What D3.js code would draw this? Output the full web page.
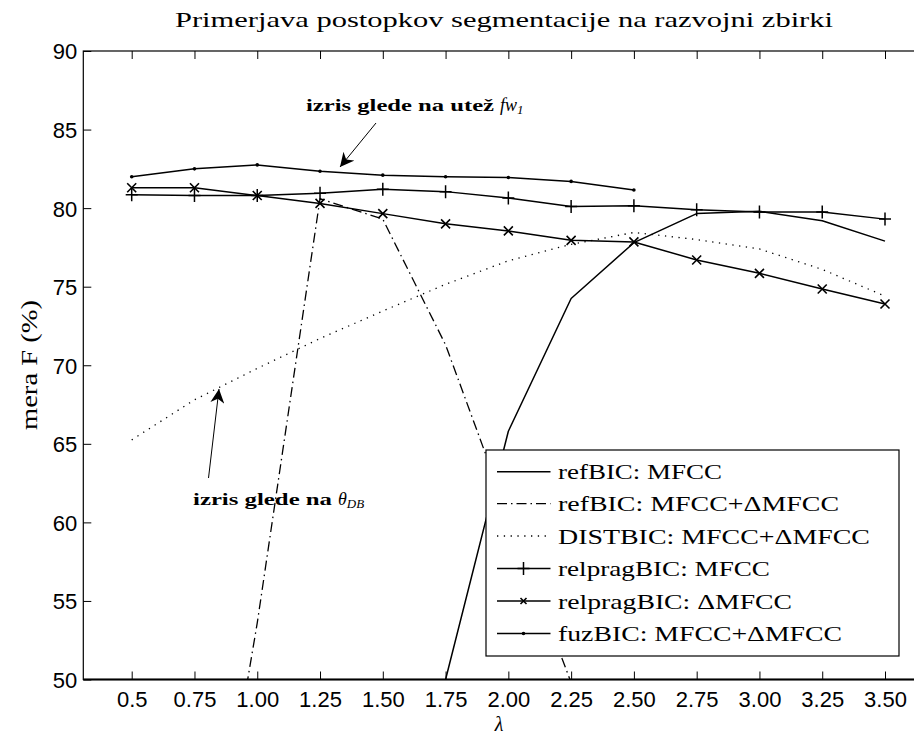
<!DOCTYPE html>
<html><head><meta charset="utf-8">
<script src="https://cdn.jsdelivr.net/npm/d3@7"></script>
<style>body{margin:0;background:#fff}svg{display:block}</style>
</head><body>
<script>
// ---- data ----
const lambdas = [0.5,0.75,1.0,1.25,1.5,1.75,2.0,2.25,2.5,2.75,3.0,3.25,3.5];
const xTickLabels = ["0.5","0.75","1.00","1.25","1.50","1.75","2.00","2.25","2.50","2.75","3.00","3.25","3.50"];
const yTicks = [50,55,60,65,70,75,80,85,90];
const refMfccX = [1.75,2.0,2.25,2.5,2.75,3.0,3.25,3.5];
const refMfccY = [50.0,65.8,74.25,77.8,79.65,79.8,79.2,77.9];
const refDeltaX = [0.75,1.0,1.25,1.5,1.75,2.0,2.25];
const refDeltaY = [30,53.6,80.6,79.3,71.3,60.4,49.8];
const distY = [65.25,67.8,69.8,71.7,73.45,75.15,76.65,77.7,78.45,78.0,77.4,76.1,74.4];
const relMfccY = [80.85,80.8,80.8,80.95,81.2,81.05,80.65,80.1,80.15,79.9,79.75,79.75,79.3];
const relDeltaY = [81.3,81.3,80.8,80.3,79.65,79.0,78.55,77.95,77.85,76.7,75.85,74.85,73.9];
const fuzX = [0.5,0.75,1.0,1.25,1.5,1.75,2.0,2.25,2.5];
const fuzY = [82.0,82.5,82.75,82.35,82.1,82.0,81.95,81.7,81.15];
const legendLabels = ["refBIC: MFCC","refBIC: MFCC+\u0394MFCC","DISTBIC: MFCC+\u0394MFCC","relpragBIC: MFCC","relpragBIC: \u0394MFCC","fuzBIC: MFCC+\u0394MFCC"];

// ---- layout (text widths emulate the wide Computer Modern face) ----
const legendTextWidths = [164,281,312,212,234,284];
const W=914,H=736;
const L=83.3, R=920, T=51, B=679.5;
const x = d3.scaleLinear().domain([0.5,3.5]).range([131.7,885]);
const y = d3.scaleLinear().domain([50,90]).range([B,T]);
const serif = "'Liberation Serif','DejaVu Serif',serif";
const sans = "'Liberation Sans',Arial,sans-serif";

const svg = d3.select("body").append("svg").attr("width",W).attr("height",H);
const defs = svg.append("defs");
defs.append("clipPath").attr("id","clip")
  .append("rect").attr("x",L).attr("y",T).attr("width",R-L).attr("height",B-T);

// frame
svg.append("rect").attr("x",L).attr("y",T).attr("width",R-L).attr("height",B-T)
  .attr("fill","none").attr("stroke","#000").attr("stroke-width",1.2);
svg.append("line").attr("x1",L).attr("x2",R).attr("y1",B).attr("y2",B).attr("stroke","#000").attr("stroke-width",2);

// axes
const xb = svg.append("g").attr("transform",`translate(0,${B})`)
  .call(d3.axisBottom(x).tickValues(lambdas).tickFormat((d,i)=>xTickLabels[i]).tickSizeInner(-8).tickSizeOuter(0).tickPadding(12));
const xt = svg.append("g").attr("transform",`translate(0,${T})`)
  .call(d3.axisTop(x).tickValues(lambdas).tickFormat("").tickSizeInner(-8).tickSizeOuter(0));
const yl = svg.append("g").attr("transform",`translate(${L},0)`)
  .call(d3.axisLeft(y).tickValues(yTicks).tickFormat(d3.format("d")).tickSizeInner(-8).tickSizeOuter(0).tickPadding(6));
[xb,xt,yl].forEach(g=>{g.select(".domain").remove();
  g.selectAll(".tick line").attr("stroke","#000").attr("stroke-width",1);
  g.selectAll("text").attr("font-family",sans).attr("font-size",22).attr("fill","#000");});
xb.selectAll("text").attr("dy","0.71em");
yl.selectAll("text").attr("dy","0.36em");

// title and labels
svg.append("text").attr("x",175).attr("y",27)
  .attr("font-family",serif).attr("font-size",22).attr("textLength",658).attr("lengthAdjust","spacingAndGlyphs")
  .text("Primerjava postopkov segmentacije na razvojni zbirki");
svg.append("text").attr("transform","translate(37,365) rotate(-90)").attr("x",-65)
  .attr("font-family",serif).attr("font-size",23).attr("textLength",130).attr("lengthAdjust","spacingAndGlyphs").text("mera F (%)");
svg.append("text").attr("x",499).attr("y",731).attr("text-anchor","middle")
  .attr("font-family",serif).attr("font-style","italic").attr("font-size",20).text("\u03bb");

// series
const plot = svg.append("g").attr("clip-path","url(#clip)");
const line = d3.line().x(d=>x(d[0])).y(d=>y(d[1]));
const zip=(a,b)=>a.map((v,i)=>[v,b[i]]);
const series = [
  {pts:zip(refMfccX,refMfccY), dash:null, marker:null},
  {pts:zip(refDeltaX,refDeltaY), dash:"10,4,1.5,4", marker:null},
  {pts:zip(lambdas,distY), dash:"1.3,5.5", marker:null},
  {pts:zip(lambdas,relMfccY), dash:null, marker:"plus"},
  {pts:zip(lambdas,relDeltaY), dash:null, marker:"x"},
  {pts:zip(fuzX,fuzY), dash:null, marker:"dot"}
];
function drawMarker(g,type,cx,cy){
  if(type==="plus"){
    g.append("path").attr("d",`M${cx-6},${cy}H${cx+6}M${cx},${cy-6.5}V${cy+6.5}`).attr("stroke","#000").attr("stroke-width",1.5);
  } else if(type==="x"){
    g.append("path").attr("d",`M${cx-4.5},${cy-4.5}L${cx+4.5},${cy+4.5}M${cx-4.5},${cy+4.5}L${cx+4.5},${cy-4.5}`).attr("stroke","#000").attr("stroke-width",1.6);
  } else if(type==="dot"){
    g.append("circle").attr("cx",cx).attr("cy",cy).attr("r",1.8).attr("fill","#000");
  }
}
series.forEach(s=>{
  plot.append("path").attr("d",line(s.pts)).attr("fill","none").attr("stroke","#000")
    .attr("stroke-width",s.dash?1.3:1.5).attr("stroke-dasharray",s.dash).attr("stroke-linejoin","round");
  if(s.marker) s.pts.forEach(p=>drawMarker(plot,s.marker,x(p[0]),y(p[1])));
});

// annotations
defs.append("marker").attr("id","arr").attr("viewBox","0 0 10 10").attr("refX",10).attr("refY",5)
  .attr("markerWidth",14).attr("markerHeight",14).attr("markerUnits","userSpaceOnUse").attr("orient","auto")
  .append("path").attr("d","M0,0L10,5L0,10L3,5Z").attr("fill","#000");
svg.append("line").attr("x1",376).attr("y1",123).attr("x2",340).attr("y2",167)
  .attr("stroke","#000").attr("stroke-width",1).attr("marker-end","url(#arr)");
svg.append("line").attr("x1",208.5).attr("y1",478).attr("x2",219).attr("y2",389)
  .attr("stroke","#000").attr("stroke-width",1).attr("marker-end","url(#arr)");
function annot(x0,y0,boldTxt,boldW,mathTxt,subTxt){
  svg.append("text").attr("x",x0).attr("y",y0).attr("font-family",serif).attr("font-size",17).attr("font-weight","bold")
    .attr("textLength",boldW).attr("lengthAdjust","spacingAndGlyphs").text(boldTxt);
  const t = svg.append("text").attr("x",x0+boldW+6).attr("y",y0).attr("font-family",serif).attr("font-size",18).attr("font-style","italic");
  t.append("tspan").text(mathTxt);
  t.append("tspan").attr("font-size",13).attr("dy",3).text(subTxt);
}
annot(306,111,"izris glede na ute\u017e",188,"fw","1");
annot(193,505,"izris glede na",139,"\u03b8","DB");

// legend
const lg = svg.append("g");
lg.append("rect").attr("x",486).attr("y",450).attr("width",413).attr("height",206)
  .attr("fill","#fff").attr("stroke","#000").attr("stroke-width",1.2);
const rowY = [471.7,503.7,536,568.5,601,633.5];
series.forEach((s,i)=>{
  const yy=rowY[i];
  lg.append("line").attr("x1",497).attr("x2",550.5).attr("y1",yy).attr("y2",yy).attr("stroke","#000")
    .attr("stroke-width",s.dash?1.3:1.5).attr("stroke-dasharray",s.dash);
  if(s.marker){
    if(s.marker==="x"){ lg.append("path").attr("d",`M${523.5-3},${yy-3}L${523.5+3},${yy+3}M${523.5-3},${yy+3}L${523.5+3},${yy-3}`).attr("stroke","#000").attr("stroke-width",1.6);}
    else drawMarker(lg,s.marker,523.5,yy);
  }
  lg.append("text").attr("x",558).attr("y",yy).attr("dy","0.35em").attr("font-family",serif).attr("font-size",22)
    .attr("textLength",legendTextWidths[i]).attr("lengthAdjust","spacingAndGlyphs").text(legendLabels[i]);
});
</script>
</body></html>
